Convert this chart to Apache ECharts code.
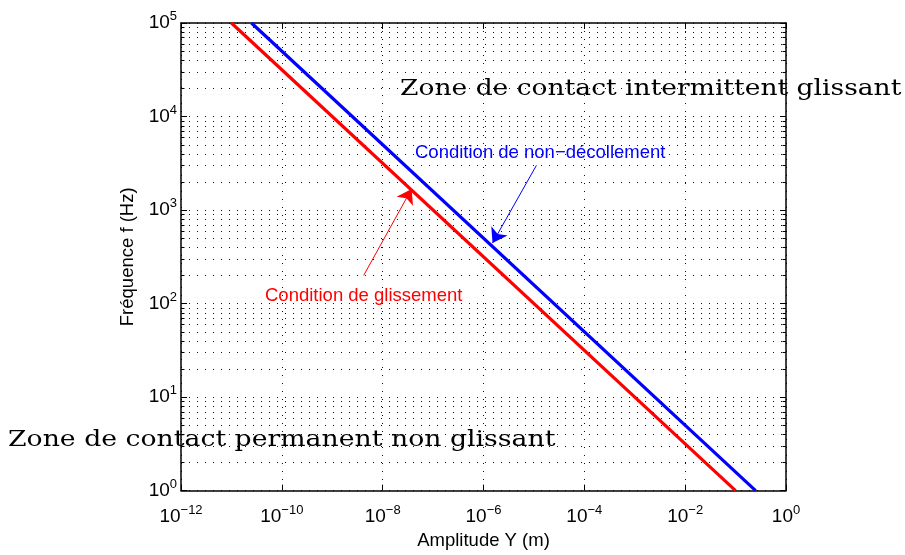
<!DOCTYPE html>
<html>
<head>
<meta charset="utf-8">
<script src="https://cdn.jsdelivr.net/npm/echarts@6/dist/echarts.min.js"></script>
<style>
html,body{margin:0;padding:0;background:#fff;}
#chart{width:905px;height:555px;}
</style>
</head>
<body>
<div id="chart"></div>
<script>
// ---- data ----
const amplitudeRed = [1e-11, 0.1];      // Y (m), condition de glissement
const frequencyRed = [1e5, 1];          // f (Hz)
const amplitudeBlue = [2.5e-11, 0.25];  // Y (m), condition de non-décollement
const frequencyBlue = [1e5, 1];
const xTickExponents = [-12, -10, -8, -6, -4, -2, 0];
const yTickExponents = [0, 1, 2, 3, 4, 5];
const xMin = 1e-12, xMax = 1, yMin = 1, yMax = 1e5;
// arrow annotations [start, end] in data space
const arrowBlue = [[1.12e-5, 3000], [1.51e-6, 444]];
const arrowRed = [[4.2e-9, 200], [3.75e-8, 1680]];

// minor frequency grid values (2..9 x 10^k)
const yMinor = [];
for (let k = 0; k < 5; k++) for (let m = 2; m <= 9; m++) yMinor.push(m * Math.pow(10, k));

const sans = 'Liberation Sans, Arial, Helvetica, sans-serif';
const serif = '"DejaVu Serif", serif';

function expLabel(v) {
  const e = Math.round(Math.log10(v));
  const s = e < 0 ? '\u2212' + (-e) : String(e);
  return '{b|10}{s|' + s + '}';
}
const richLab = {
  b: {fontSize: 19, fontFamily: sans, color: '#000'},
  s: {fontSize: 13, fontFamily: sans, color: '#000', padding: [0, 0, 13, 0]}
};

const chart = echarts.init(document.getElementById('chart'));
const dotted = {color: '#111', width: 1, type: [1, 7]};
const frame = {color: '#000', width: 1.5};

function seriesData(xs, ys) { return xs.map((x, i) => [x, ys[i]]); }

const option = {
  animation: false,
  backgroundColor: '#fff',
  grid: {left: 181, right: 119, top: 23, bottom: 56, containLabel: false},
  xAxis: [
    {
      type: 'log', logBase: 10, min: xMin, max: xMax, interval: 2,
      position: 'bottom',
      name: 'Amplitude Y (m)', nameLocation: 'middle', nameGap: 40,
      nameTextStyle: {fontSize: 18.5, fontFamily: sans, color: '#000'},
      axisLine: {show: true, onZero: false, lineStyle: frame},
      axisTick: {show: true, inside: true, length: 6, lineStyle: {color: '#000'}},
      axisLabel: {show: true, margin: 13, formatter: expLabel, rich: richLab},
      splitLine: {show: true, lineStyle: dotted}
    },
    {
      type: 'log', logBase: 10, min: xMin, max: xMax, interval: 2,
      position: 'top',
      axisLine: {show: true, onZero: false, lineStyle: frame},
      axisTick: {show: true, inside: true, length: 6, lineStyle: {color: '#000'}},
      axisLabel: {show: false},
      splitLine: {show: false}
    }
  ],
  yAxis: [
    {
      type: 'log', logBase: 10, min: yMin, max: yMax, interval: 1,
      position: 'left',
      name: 'Fréquence f (Hz)', nameLocation: 'middle', nameGap: 44, nameRotate: 90,
      nameTextStyle: {fontSize: 18.5, fontFamily: sans, color: '#000'},
      axisLine: {show: true, onZero: false, lineStyle: frame},
      axisTick: {show: true, inside: true, length: 6, lineStyle: {color: '#000'}},
      axisLabel: {show: true, margin: 4, formatter: expLabel, rich: richLab},
      splitLine: {show: true, lineStyle: dotted}
    },
    {
      type: 'log', logBase: 10, min: yMin, max: yMax, interval: 1,
      position: 'right',
      axisLine: {show: true, onZero: false, lineStyle: frame},
      axisTick: {show: true, inside: true, length: 6, lineStyle: {color: '#000'}},
      axisLabel: {show: false},
      splitLine: {show: false}
    }
  ],
  series: [
    {
      type: 'custom', coordinateSystem: 'cartesian2d', silent: true, z: 1, clip: false,
      data: yMinor.map(v => [xMin, v]),
      renderItem: function (params, api) {
        const v = api.value(1);
        const p0 = api.coord([xMin, v]);
        const p1 = api.coord([xMax, v]);
        const y = Math.round(p0[1]) + 0.5;
        return {type: 'group', children: [
          {type: 'line', shape: {x1: p0[0], y1: y, x2: p1[0], y2: y}, style: {stroke: '#111', lineWidth: 1, lineDash: [1, 7]}},
          {type: 'line', shape: {x1: p0[0], y1: y, x2: p0[0] + 3.5, y2: y}, style: {stroke: '#000', lineWidth: 1}},
          {type: 'line', shape: {x1: p1[0] - 3.5, y1: y, x2: p1[0], y2: y}, style: {stroke: '#000', lineWidth: 1}}
        ]};
      }
    },
    {
      name: 'Condition de glissement', type: 'line', symbol: 'none', z: 5,
      data: seriesData(amplitudeRed, frequencyRed),
      lineStyle: {color: '#ff0000', width: 3.2},
      markLine: {
        silent: true, symbol: ['none', 'arrow'], symbolSize: 14,
        lineStyle: {color: '#ff0000', width: 1, type: 'solid'},
        label: {show: false},
        data: [[{coord: arrowRed[0]}, {coord: arrowRed[1]}]]
      }
    },
    {
      name: 'Condition de non-décollement', type: 'line', symbol: 'none', z: 5,
      data: seriesData(amplitudeBlue, frequencyBlue),
      lineStyle: {color: '#0000ff', width: 3.2},
      markLine: {
        silent: true, symbol: ['none', 'arrow'], symbolSize: 14,
        lineStyle: {color: '#0000ff', width: 1, type: 'solid'},
        label: {show: false},
        data: [[{coord: arrowBlue[0]}, {coord: arrowBlue[1]}]]
      }
    }
  ],
  graphic: [
    {type: 'text', x: 400, y: 89, scaleX: 1.206, z: 10,
     style: {text: 'Zone de contact intermittent glissant', font: '22px ' + serif, fill: '#000',
             textAlign: 'left', textVerticalAlign: 'middle'}},
    {type: 'text', x: 8, y: 440, scaleX: 1.214, z: 10,
     style: {text: 'Zone de contact permanent non glissant', font: '22px ' + serif, fill: '#000',
             textAlign: 'left', textVerticalAlign: 'middle'}},
    {type: 'text', x: 415, y: 153, z: 10,
     style: {text: 'Condition de non\u2212décollement', font: '18.5px ' + sans, fill: '#0000ff',
             textAlign: 'left', textVerticalAlign: 'middle'}},
    {type: 'text', x: 265, y: 296, z: 10,
     style: {text: 'Condition de glissement', font: '18.5px ' + sans, fill: '#ff0000',
             textAlign: 'left', textVerticalAlign: 'middle'}}
  ]
};
chart.setOption(option);
</script>
</body>
</html>
